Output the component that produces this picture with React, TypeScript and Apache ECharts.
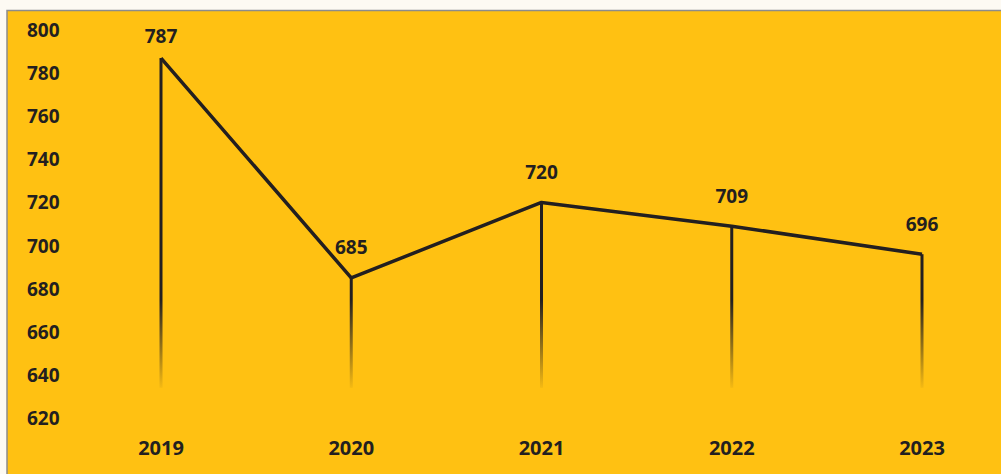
import React, { useEffect, useRef } from "react";
import * as echarts from "echarts";

const years = ["2019", "2020", "2021", "2022", "2023"];
const values = [787, 685, 720, 709, 696];
const yTicks = [620, 640, 660, 680, 700, 720, 740, 760, 780, 800];

export default function App() {
  const ref = useRef<HTMLDivElement>(null);
  useEffect(() => {
    if (!ref.current) return;
    const chart = echarts.init(ref.current, null, { renderer: "svg" });
    const dark = "#231F20";
    const font = "Open Sans";
    chart.setOption({
      animation: false,
      backgroundColor: "#FDFAF3",
      graphic: [
        {
          type: "rect",
          z: -10,
          silent: true,
          shape: { x: 7, y: 10.5, width: 1000, height: 470 },
          style: { fill: "#FFC112", stroke: "#8C8C8C", lineWidth: 1.5 },
        },
      ],
      grid: { left: 161, right: 79, top: 30, bottom: 56, containLabel: false },
      xAxis: {
        type: "category",
        data: years,
        boundaryGap: false,
        axisLine: { show: false },
        axisTick: { show: false },
        splitLine: { show: false },
        axisLabel: {
          margin: 19,
          color: dark,
          fontFamily: font,
          fontWeight: "bold",
          fontSize: 20,
        },
      },
      yAxis: {
        type: "value",
        min: yTicks[0],
        max: yTicks[yTicks.length - 1],
        interval: 20,
        axisLine: { show: false },
        axisTick: { show: false },
        splitLine: { show: false },
        axisLabel: {
          align: "left",
          margin: 134,
          color: dark,
          fontFamily: font,
          fontWeight: "bold",
          fontSize: 19,
        },
      },
      series: [
        {
          type: "custom",
          z: 1,
          silent: true,
          data: values.map((v, i) => [i, v]),
          renderItem: (params: any, api: any) => {
            const i = api.value(0);
            const v = api.value(1);
            const top = api.coord([i, v]);
            const bottom = api.coord([i, 634]);
            return {
              type: "line",
              shape: { x1: top[0], y1: top[1], x2: bottom[0], y2: bottom[1] },
              style: {
                lineWidth: 3,
                stroke: new echarts.graphic.LinearGradient(
                  0, 300, 0, 392,
                  [
                    { offset: 0, color: "rgba(35,31,32,1)" },
                    { offset: 1, color: "rgba(35,31,32,0)" },
                  ],
                  true
                ),
              },
            };
          },
        },
        {
          type: "line",
          z: 2,
          data: values.map((v, i) =>
            i === 0 ? { value: v, label: { distance: 13 } } : v
          ),
          symbol: "circle",
          symbolSize: 0,
          showSymbol: true,
          itemStyle: { color: dark },
          lineStyle: { color: dark, width: 3.5 },
          label: {
            show: true,
            position: "top",
            distance: 21,
            color: dark,
            fontFamily: font,
            fontWeight: "bold",
            fontSize: 19,
          },
        },
      ],
    });
    return () => chart.dispose();
  }, []);
  return (
    <div
      ref={ref}
      style={{ position: "fixed", left: 0, top: 0, width: 1001, height: 474 }}
    />
  );
}
